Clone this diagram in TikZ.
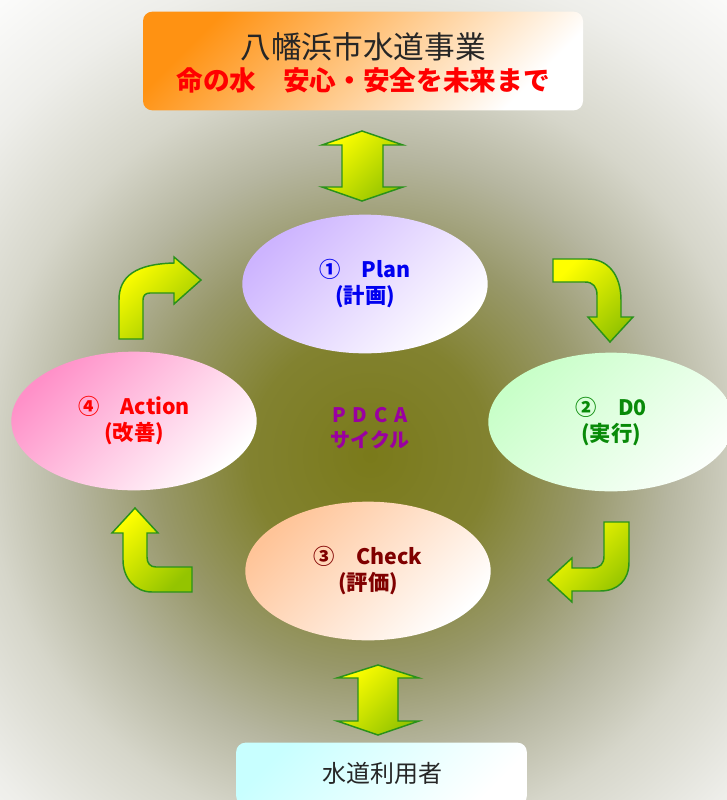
\documentclass[tikz,border=0pt]{standalone}
\usepackage{fontspec}
\setmainfont{Noto Sans CJK JP}
\usetikzlibrary{shapes.geometric}
\definecolor{bg0}{HTML}{7A7A1A}
\definecolor{bg1}{HTML}{828230}
\definecolor{bg2}{HTML}{98986A}
\definecolor{bg3}{HTML}{B6B6A0}
\definecolor{bg4}{HTML}{D6D6CA}
\definecolor{bg5}{HTML}{EEEEEA}
\definecolor{topor}{HTML}{FF9212}
\definecolor{botcy}{HTML}{C8FFFF}
\definecolor{plancol}{HTML}{CDB4FF}
\definecolor{docol}{HTML}{C8FFC8}
\definecolor{actcol}{HTML}{FF90C8}
\definecolor{chkcol}{HTML}{FFC498}
\definecolor{arrY}{HTML}{FFFF00}
\definecolor{arrG}{HTML}{94C400}
\definecolor{arrLine}{HTML}{2A921A}
\definecolor{plantxt}{HTML}{0000F0}
\definecolor{dotxt}{HTML}{088A08}
\definecolor{acttxt}{HTML}{FF0000}
\definecolor{chktxt}{HTML}{800000}
\definecolor{pdcatxt}{HTML}{9A00A0}
\definecolor{darktxt}{HTML}{262626}
\pgfdeclareradialshading{bgshade}{\pgfpoint{0bp}{0bp}}{color(0bp)=(bg0); color(5bp)=(bg1); color(9bp)=(bg2); color(12.5bp)=(bg3); color(16bp)=(bg4); color(20.5bp)=(bg5); color(25.5bp)=(white); color(50bp)=(white)}
\tikzset{
  ell/.style={ellipse, minimum width=184pt, minimum height=104pt, inner sep=0pt, align=center,
    font=\fontsize{16}{19.5}\selectfont\bfseries},
  planfill/.style={top color=plancol, bottom color=white, shading angle=45},
  dofill/.style={top color=docol, bottom color=white!92!docol, shading angle=45},
  actfill/.style={top color=actcol, bottom color=white, shading angle=45},
  chkfill/.style={top color=chkcol, bottom color=white, shading angle=45},
  bigarrow/.style={draw=arrLine, line width=1.1pt, line join=miter, top color=arrY, bottom color=arrG, shading angle=45},
  boxtop/.style={rounded corners=7pt, minimum width=330pt, minimum height=74pt, inner sep=0pt,
    top color=topor, bottom color=white, shading angle=45},
  boxbot/.style={rounded corners=7pt, minimum width=218pt, minimum height=47pt, inner sep=0pt,
    top color=botcy, bottom color=white, shading angle=45},
}
\begin{document}
\begin{tikzpicture}[x=0.75pt,y=-0.75pt]
\useasboundingbox (0,0) rectangle (727,800);
\begin{scope}
\clip (0,0) rectangle (727,800);
\fill[white] (0,0) rectangle (727,800);
\shade[shading=bgshade] (-230,-145) rectangle (970,1055);

% top and bottom boxes
\node[boxtop] (topbox) at (363,61) {};
\node[text=darktxt, font=\fontsize{23}{26}\selectfont] (title) at (363,47) {八幡浜市水道事業};
\node[text=red, font=\fontsize{20}{24}\selectfont\bfseries] (subtitle) at (363,80) {命の水　安心・安全を未来まで};

\node[boxbot] (botbox) at (381.5,774) {};
\node[text=darktxt, font=\fontsize{18}{22}\selectfont] (users) at (382,773) {水道利用者};

% ellipses
\node[ell, planfill, text=plantxt] (plan) at (365,284) {①　Plan\\(計画)};
\node[ell, dofill, text=dotxt] (do) at (611,422) {②　D0\\(実行)};
\node[ell, actfill, text=acttxt] (act) at (134,421) {④　Action\\(改善)};
\node[ell, chkfill, text=chktxt] (chk) at (368,571) {③　Check\\(評価)};

\node[text=pdcatxt, align=center, font=\fontsize{15}{19}\selectfont\bfseries] (pdca) at (370,428) {P\hspace{5pt}D\hspace{5pt}C\hspace{5pt}A\\サイクル};

% double arrows
\path[bigarrow] (362,131) -- (322,145) -- (342,145) -- (342,187) -- (322,187) -- (362,201)
  -- (403,187) -- (383,187) -- (383,145) -- (403,145) -- cycle;
\path[bigarrow] (378,665) -- (337,678) -- (358,678) -- (358,721) -- (337,721) -- (378,735)
  -- (419,721) -- (398,721) -- (398,678) -- (419,678) -- cycle;

% bent arrows
\path[bigarrow] (119,339) -- (119,300) .. controls (119,276) and (136,264) .. (174,263)
  -- (174,257) -- (201,280) -- (174,304) -- (174,293) -- (150,293)
  .. controls (145,293) and (143,296) .. (143,300) -- (143,339) -- cycle;
\path[bigarrow] (553,259) -- (588,259) .. controls (608,259) and (621,275) .. (621,300)
  -- (621,317) -- (633,317) -- (610,342) -- (588,317) -- (597,317) -- (597,295)
  .. controls (597,287) and (593,282) .. (585,282) -- (553,282) -- cycle;
\path[bigarrow] (604,522) -- (629,522) -- (629,562) .. controls (629,580) and (618,591) .. (600,591)
  -- (572,591) -- (572,602) -- (548,580) -- (572,558) -- (572,568) -- (592,568)
  .. controls (600,568) and (604,564) .. (604,556) -- cycle;
\path[bigarrow] (192,567) -- (192,592) -- (152,592) .. controls (135,592) and (123,578) .. (123,560)
  -- (123,533) -- (112,533) -- (135,508) -- (158,533) -- (147,533) -- (147,557)
  .. controls (147,563) and (150,567) .. (156,567) -- cycle;
\end{scope}
\end{tikzpicture}
\end{document}
